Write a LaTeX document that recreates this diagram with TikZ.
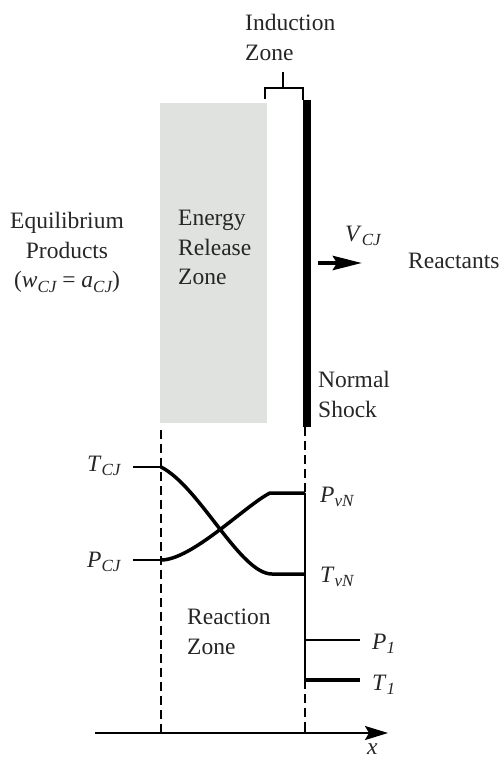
\documentclass[tikz,border=0pt]{standalone}
\usepackage{fontspec}
\setmainfont{Liberation Serif}
\usetikzlibrary{arrows.meta, positioning, calc}
\definecolor{zonagrigia}{RGB}{224,226,223}
\newcommand{\grandezza}[2]{\textit{#1}\raisebox{-0.45ex}{\fontsize{17}{17}\selectfont\itshape #2}}

\begin{document}
\begin{tikzpicture}[x=1pt, y=-1pt,
    testo/.style={font=\fontsize{23.5}{29.5}\selectfont, inner sep=0pt, text=black!85},
    sottile/.style={line width=1.9pt},
    spesso/.style={line width=3.5pt},
    tratteggio/.style={line width=1.6pt, dash pattern=on 9pt off 5pt}]
    \useasboundingbox (0,0) rectangle (502,758);

    % Zona di rilascio dell'energia e onda d'urto
    \fill[zonagrigia] (160,103) rectangle (267,423);
    \coordinate (urto1) at (307,100);
    \coordinate (urto2) at (307,427);
    \draw[line width=8pt] (urto1) -- (urto2);

    % Parentesi della zona di induzione
    \coordinate (par1) at (265,99);
    \coordinate (par2) at (265,88);
    \coordinate (par3) at (303,88);
    \coordinate (par4) at (303,100);
    \coordinate (parm) at (283,88);
    \coordinate (part) at (283,72);
    \draw[sottile] (par1) -- (par2) -- (par3) -- (par4);
    \draw[sottile] (parm) -- (part);

    % Testi in alto
    \node[testo, anchor=north west, align=left] (induzione) at (245,14) {Induction\\Zone};
    \node[testo, anchor=north west, align=left] (rilascio) at (178,210) {Energy\\Release\\Zone};
    \node[testo, anchor=north, align=center] (prodotti) at (67,212)
        {Equilibrium\\Products\\(\grandezza{w}{CJ} = \grandezza{a}{CJ})};
    \node[testo, anchor=north west, align=left] (urto) at (318,371) {Normal\\Shock};
    \node[testo, anchor=base west] (reagenti) at (408,268) {Reactants};
    \node[testo, anchor=base west] (vcj) at (345,241) {\grandezza{V}{CJ}};

    % Velocita' dell'onda
    \coordinate (vel1) at (318,263);
    \coordinate (vel2) at (362,263);
    \draw[line width=4.5pt, -{Stealth[length=29pt, width=14pt, inset=4pt]}] (vel1) -- (vel2);

    % Linee tratteggiate
    \coordinate (sx1) at (161,430);
    \coordinate (sx2) at (161,733);
    \coordinate (dx2) at (305,733);
    \draw[tratteggio] (sx1) -- (sx2);

    % Profili di temperatura e pressione
    \coordinate (tcj0) at (133,467);
    \coordinate (tcj) at (161,467);
    \coordinate (tvn0) at (272,574);
    \coordinate (tvn) at (305,574);
    \coordinate (pcj0) at (133,560);
    \coordinate (pcj) at (161,560);
    \coordinate (pvn0) at (270,493);
    \coordinate (pvn) at (305,493);
    \coordinate (p1a) at (305,640);
    \coordinate (p1b) at (360,640);
    \coordinate (t1a) at (305,680);
    \coordinate (t1b) at (360,680);
    \draw[tratteggio] (305,427) -- (pvn);
    \draw[tratteggio] (t1a) -- (dx2);
    \draw[sottile] (tcj0) -- (tcj);
    \draw[sottile] (pcj0) -- (pcj);
    \draw[spesso] (tcj) .. controls (200,487) and (240,574) .. (tvn0) -- (tvn);
    \draw[spesso] (pcj) .. controls (192,560) and (246,505) .. (pvn0) -- (pvn);
    \draw[sottile] (pvn) -- (t1a);
    \draw[sottile] (p1a) -- (p1b);
    \draw[spesso] (t1a) -- (t1b);

    % Etichette dei profili
    \node[testo, anchor=base west] (etcj) at (87,471) {\grandezza{T}{CJ}};
    \node[testo, anchor=base west] (epcj) at (87,567) {\grandezza{P}{CJ}};
    \node[testo, anchor=base west] (epvn) at (320,502) {\grandezza{P}{vN}};
    \node[testo, anchor=base west] (etvn) at (320,582) {\grandezza{T}{vN}};
    \node[testo, anchor=base west] (ep1) at (372,649) {\grandezza{P}{1}};
    \node[testo, anchor=base west] (et1) at (372,690) {\grandezza{T}{1}};
    \node[testo, anchor=north west, align=left] (reazione) at (187,609) {Reaction\\Zone};

    % Asse x
    \coordinate (asse0) at (95,733);
    \coordinate (asse1) at (388,733);
    \draw[sottile, -{Stealth[length=23pt, width=14pt, inset=4pt]}] (asse0) -- (asse1);
    \draw[sottile] (161,727) -- (sx2);
    \draw[sottile] (305,727) -- (dx2);
    \node[testo, anchor=base west] (ex) at (367,754) {\textit{x}};
\end{tikzpicture}
\end{document}
